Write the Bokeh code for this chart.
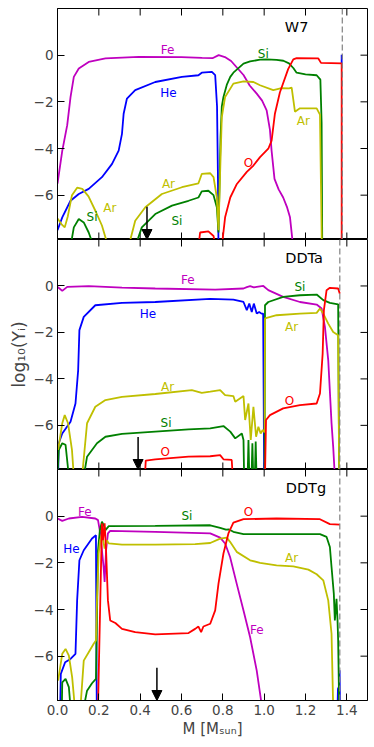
import math
from bokeh.plotting import figure
from bokeh.models import Range1d, LinearAxis, FixedTicker, Span, Arrow, NormalHead, ColumnDataSource
from bokeh.layouts import column
from bokeh.embed import file_html
from bokeh.resources import INLINE
from bokeh.core.properties import value

N = float("nan")

# ---------------- data ----------------
# W7
w7_fe_x = [0.0, 0.023, 0.047, 0.063, 0.079, 0.103, 0.151, 0.232, 0.393, 0.60, 0.70, 0.75, 0.78, 0.81, 0.84, 0.87, 0.90, 0.93, 0.964, 0.99, 1.012, 1.028, 1.036, 1.05, 1.07, 1.092, 1.11, 1.125, 1.14]
w7_fe_y = [-5.5, -4.1, -3.0, -1.8, -0.93, -0.57, -0.29, -0.14, -0.07, -0.08, -0.12, -0.13, 0.0, -0.08, -0.25, -0.55, -0.85, -1.3, -1.65, -1.95, -2.37, -3.2, -4.1, -5.3, -5.75, -6.1, -6.5, -6.95, -8.2]
w7_he_x = [0.0, 0.023, 0.063, 0.103, 0.151, 0.215, 0.264, 0.296, 0.312, 0.32, 0.336, 0.376, 0.473, 0.602, 0.682, 0.698, 0.747, 0.763, 0.772, 0.776, 0.779, N, 1.375, 1.375]
w7_he_y = [-7.5, -6.95, -6.24, -5.95, -5.73, -5.23, -4.66, -4.09, -3.37, -2.51, -1.86, -1.5, -1.15, -0.93, -0.86, -0.75, -0.72, -0.86, -2.2, -5.0, -8.2, N, 0.02, -0.35]
w7_si_x = [0.063, 0.079, 0.103, 0.127, 0.151, 0.175, N,
           0.376, 0.408, 0.473, 0.554, 0.634, 0.682, 0.698, 0.73, 0.755, 0.771, 0.779, 0.789, 0.795, 0.803, 0.82, 0.836, 0.851, 0.9, 0.932, 0.98, 1.012, 1.06, 1.093, 1.12, 1.141, 1.157, 1.2, 1.254, 1.272, 1.278, 1.281]
w7_si_y = [-8.2, -7.38, -7.02, -7.17, -7.6, -8.2, N,
           -8.2, -7.38, -6.81, -6.45, -6.24, -6.1, -5.84, -5.81, -6.0, -6.52, -7.6, -3.5, -2.2, -1.79, -1.25, -0.93, -0.75, -0.36, -0.27, -0.19, -0.18, -0.2, -0.24, -0.35, -0.55, -0.75, -0.82, -0.86, -1.05, -2.9, -8.2]
w7_ar_x = [0.0, 0.02, 0.035, 0.05, 0.07, 0.095, 0.12, 0.15, 0.185, 0.215, 0.245, N,
           0.344, 0.376, 0.425, 0.505, 0.602, 0.682, 0.698, 0.739, 0.755, 0.771, 0.779, 0.787, 0.795, 0.811, 0.851, 0.9, 0.948, 0.98, 1.044, 1.084, 1.12, 1.133, 1.149, 1.173, 1.254, 1.27, 1.279]
w7_ar_y = [-7.0, -7.25, -7.38, -6.9, -6.0, -5.68, -5.73, -6.05, -6.7, -7.3, -8.2, N,
           -8.2, -7.1, -6.52, -5.95, -5.66, -5.49, -5.09, -5.06, -5.23, -6.1, -7.5, -5.0, -2.65, -1.79, -1.22, -1.12, -1.15, -1.29, -1.5, -1.41, -1.42, -1.39, -2.42, -2.28, -2.28, -2.55, -8.2]
w7_o_x = [0.682, 0.69, 0.73, 0.755, 0.765, N,
          0.795, 0.811, 0.836, 0.868, 0.916, 0.948, 0.98, 1.02, 1.036, 1.052, 1.076, 1.116, 1.141, 1.157, 1.262, 1.275, 1.375, 1.375]
w7_o_y = [-8.2, -7.6, -7.55, -7.75, -8.2, N,
          -8.2, -6.95, -6.1, -5.52, -5.0, -4.73, -4.37, -4.01, -3.66, -2.51, -1.6, -0.6, -0.18, -0.13, -0.14, -0.33, -0.35, -8.2]

# DDTa
dta_fe_x = [0.0, 0.01, 0.023, 0.047, 0.151, 0.312, 0.473, 0.763, 0.9, 0.916, 0.932, 0.95, 0.964, 0.98, 0.996, 1.02, 1.092, 1.173, 1.254, 1.278, 1.294, 1.31, 1.321, 1.326, 1.334, 1.342]
dta_fe_y = [-0.04, -0.11, -0.21, -0.04, -0.01, -0.07, -0.11, -0.16, -0.11, -0.05, -0.01, -0.06, -0.04, -0.02, 0.0, -0.18, -0.47, -0.69, -0.8, -0.97, -1.76, -3.19, -5.06, -5.91, -6.92, -8.2]
dta_he_x = [0.003, 0.006, 0.023, 0.063, 0.087, 0.1, 0.106, 0.127, 0.183, 0.312, 0.473, 0.739, 0.851, 0.9, 0.916, 0.928, 0.94, 0.95, 0.964, 0.976, 0.987, 0.995, 1.0]
dta_he_y = [-8.2, -6.77, -6.35, -5.84, -5.06, -3.62, -1.9, -1.33, -0.83, -0.73, -0.69, -0.56, -0.59, -0.69, -1.04, -0.76, -1.12, -0.76, -1.19, -1.12, -1.19, -1.19, -8.2]
dta_si_x = [0.0, 0.006, 0.023, 0.039, 0.055, N,
            0.127, 0.143, 0.167, 0.191, 0.232, 0.312, 0.473, 0.634, 0.739, 0.803, 0.836, 0.86, 0.892, 0.9, 0.903, N,
            0.92, 0.924, 0.928, N, 0.939, 0.943, 0.947, N, 0.955, 0.959, 0.963, N,
            1.002, 1.004, 1.02, 1.092, 1.173, 1.254, 1.286, 1.318, 1.358, 1.363]
dta_si_y = [-8.2, -7.06, -6.77, -6.84, -8.2, N,
            -8.2, -7.35, -7.06, -6.77, -6.49, -6.37, -6.27, -6.17, -6.13, -6.03, -6.27, -6.56, -6.35, -6.63, -8.2, N,
            -8.2, -6.63, -8.2, N, -8.2, -6.77, -8.2, N, -8.2, -6.7, -8.2, N,
            -8.2, -0.83, -0.69, -0.47, -0.4, -0.37, -0.61, -0.73, -0.79, -8.2]
dta_ar_x = [0.003, 0.023, 0.035, 0.051, 0.07, 0.079, N,
            0.119, 0.143, 0.183, 0.232, 0.312, 0.473, 0.65, 0.698, 0.739, 0.787, 0.811, 0.851, 0.86, 0.9, 0.908, 0.924, 0.935, 0.948, 0.961, 0.972, 0.983, 0.993, 1.002, 1.004, 1.06, 1.173, 1.254, 1.27, 1.286, 1.31, 1.334, 1.358, 1.363]
dta_ar_y = [-7.06, -5.91, -5.56, -5.91, -7.06, -8.2, N,
            -8.2, -5.91, -5.2, -4.91, -4.77, -4.65, -4.48, -4.6, -4.55, -4.48, -4.7, -4.74, -4.98, -4.74, -5.77, -5.06, -6.63, -5.2, -6.49, -6.06, -6.35, -6.2, -6.3, -1.4, -1.26, -1.19, -1.16, -0.97, -1.19, -1.62, -1.98, -2.12, -8.2]
dta_o_x = [0.423, 0.427, 0.473, 0.634, 0.739, 0.787, 0.803, 0.843, 0.848, N,
           1.004, 1.009, 1.028, 1.092, 1.173, 1.254, 1.27, 1.283, 1.289, 1.302, 1.318, 1.358, 1.366]
dta_o_y = [-8.2, -7.52, -7.46, -7.35, -7.33, -7.28, -7.46, -7.49, -8.2, N,
           -8.2, -5.77, -5.56, -5.27, -5.13, -5.06, -4.63, -2.91, -1.04, -0.18, -0.08, -0.11, -0.33]

# DDTg
dtg_fe_x = [0.0, 0.023, 0.055, 0.119, 0.183, 0.196, 0.207, 0.215, 0.223, 0.228, 0.235, 0.244, 0.255, 0.473, 0.739, 0.787, 0.811, 0.835, 0.867, 0.9, 0.932, 0.964, 0.99]
dtg_fe_y = [-0.1, -0.2, -0.1, -0.03, -0.1, -0.17, -0.74, -1.46, -2.18, -2.82, -1.46, -0.74, -0.63, -0.67, -0.74, -0.92, -1.17, -1.75, -2.89, -4.04, -5.19, -6.62, -8.2]
dtg_he_x = [0.013, 0.016, 0.037, 0.063, 0.087, 0.095, 0.106, 0.127, 0.167, 0.186, 0.19, N, 1.355, 1.357, 1.362, 1.365, 1.367]
dtg_he_y = [-8.2, -6.76, -6.26, -6.12, -5.9, -3.61, -1.89, -1.46, -0.96, -0.82, -8.2, N, -8.2, -7.4, -7.3, -6.6, -8.2]
dtg_si_x = [0.021, 0.023, 0.039, 0.055, 0.063, N,
            0.127, 0.143, 0.167, 0.186, 0.191, 0.196, 0.205, 0.215, 0.224, 0.232, 0.248, 0.473, 0.739, 0.787, 0.815, 0.83, 0.851, 0.9, 1.06, 1.27, 1.302, 1.318, 1.326, 1.337, 1.342, 1.35, 1.355, 1.358, 1.363]
dtg_si_y = [-8.2, -7.12, -6.97, -7.33, -8.2, N,
            -8.2, -7.48, -7.16, -6.97, -4.33, -1.46, -0.6, -0.24, -0.4, -0.6, -0.43, -0.42, -0.39, -0.5, -0.58, -0.57, -0.67, -0.77, -0.77, -0.77, -0.89, -1.32, -2.18, -3.32, -4.47, -3.54, -4.47, -5.33, -8.2]
dtg_ar_x = [0.003, 0.023, 0.039, 0.055, 0.071, 0.084, N,
            0.111, 0.127, 0.151, 0.175, 0.186, 0.191, 0.199, 0.207, 0.215, 0.228, 0.239, 0.248, 0.312, 0.473, 0.666, 0.739, 0.787, 0.819, 0.835, 0.867, 0.932, 0.98, 1.06, 1.141, 1.214, 1.254, 1.286, 1.31, 1.326, 1.334]
dtg_ar_y = [-7.05, -5.9, -5.69, -5.98, -6.91, -8.2, N,
            -8.2, -6.19, -5.83, -5.47, -5.33, -3.61, -1.6, -1.03, -0.74, -1.39, -1.03, -1.17, -1.22, -1.22, -1.2, -1.15, -0.96, -0.92, -1.1, -1.53, -1.89, -2.0, -2.11, -2.15, -2.29, -2.49, -2.75, -3.61, -5.04, -8.2]
dtg_o_x = [0.196, 0.207, 0.215, 0.22, 0.228, 0.235, 0.244, 0.255, 0.28, 0.312, 0.376, 0.473, 0.634, 0.666, 0.682, 0.695, 0.706, 0.739, 0.763, 0.779, 0.803, 0.827, 0.851, 0.9, 1.06, 1.27, 1.318, 1.366]
dtg_o_y = [-8.2, -3.61, -0.31, -1.03, -0.31, -1.46, -3.61, -4.47, -4.58, -4.83, -4.97, -5.07, -5.01, -4.83, -4.73, -4.97, -4.73, -4.61, -4.04, -2.89, -1.6, -0.74, -0.28, -0.13, -0.1, -0.13, -0.34, -0.36]

# species labels
w7_lab_text = ["Fe", "He", "Si", "Ar", "O", "Ar", "Si", "Si", "Ar"]
w7_lab_x = [0.533, 0.537, 0.996, 1.19, 0.924, 0.537, 0.578, 0.167, 0.253]
w7_lab_y = [0.22, -1.62, 0.07, -2.82, -4.63, -5.52, -7.1, -6.92, -6.55]
dta_lab_text = ["Fe", "Si", "He", "Ar", "Ar", "O", "Si", "O"]
dta_lab_x = [0.631, 1.173, 0.438, 1.133, 0.533, 1.122, 0.525, 0.521]
dta_lab_y = [0.24, -0.04, -1.22, -1.76, -4.34, -4.94, -5.91, -7.15]
dtg_lab_text = ["Fe", "Si", "O", "He", "Ar", "Fe"]
dtg_lab_x = [0.132, 0.626, 0.924, 0.068, 1.133, 0.964]
dtg_lab_y = [0.19, 0.0, 0.19, -1.39, -1.78, -4.87]

model_names = ["W7", "DDTa", "DDTg"]
model_name_x = [1.157, 1.193, 1.202]
model_name_y = 1.22
arrow_x = [0.433, 0.39, 0.481]
arrow_top = -6.5
mass_line_x = [1.378, 1.366, 1.366]

x_ticks = [0.0, 0.2, 0.4, 0.6, 0.8, 1.0, 1.2, 1.4]
y_ticks = [-6, -4, -2, 0]
y_tick_labels = {-6: "\u22126", -4: "\u22124", -2: "\u22122", 0: "0"}
x_tick_labels = {0.0: "0.0", 0.2: "0.2", 0.4: "0.4", 0.6: "0.6", 0.8: "0.8", 1.0: "1.0", 1.2: "1.2", 1.4: "1.4"}
x_lim = (0.0, 1.5)
y_lim = (-7.9, 2.0)

colors = {"Fe": "#bf00bf", "He": "#0000ff", "Si": "#008000", "Ar": "#bfbf00", "O": "#ff0000"}
FONT = "DejaVu Sans"
TICK = 7  # inward tick length, px

xr = Range1d(*x_lim)


def make_panel(idx, series, labels, height, top_border, bottom_border, bottom_labels, ylabel):
    p = figure(width=372, height=height, x_range=xr, y_range=Range1d(*y_lim),
               output_backend="svg", toolbar_location=None,
               x_axis_location=None, y_axis_location=None,
               min_border_left=57, min_border_right=5,
               min_border_top=top_border, min_border_bottom=bottom_border)
    p.grid.visible = False
    p.outline_line_color = "black"
    p.outline_line_width = 1
    p.background_fill_color = "white"
    p.border_fill_color = "white"

    left = LinearAxis(ticker=FixedTicker(ticks=y_ticks))
    left.major_label_overrides = y_tick_labels
    left.major_tick_in = TICK
    left.major_tick_out = 0
    left.minor_tick_in = 0
    left.minor_tick_out = 0
    left.major_label_text_font = FONT
    left.major_label_text_font_size = "13.5px"
    left.major_label_standoff = 4
    if ylabel:
        left.axis_label = ylabel
        left.axis_label_text_font = FONT
        left.axis_label_text_font_size = "17px"
        left.axis_label_text_font_style = "normal"
        left.axis_label_standoff = 2
    p.add_layout(left, "left")

    if bottom_labels:
        bottom = LinearAxis(ticker=FixedTicker(ticks=x_ticks))
        bottom.major_label_overrides = x_tick_labels
        bottom.major_tick_in = TICK
        bottom.major_tick_out = 0
        bottom.minor_tick_in = 0
        bottom.minor_tick_out = 0
        bottom.major_label_text_font = FONT
        bottom.major_label_text_font_size = "13.5px"
        bottom.major_label_standoff = 4
        bottom.axis_label = "M [M\u209b\u1d64\u2099]"
        bottom.axis_label_text_font = FONT
        bottom.axis_label_text_font_size = "15px"
        bottom.axis_label_text_font_style = "normal"
        bottom.axis_label_standoff = 2
        p.add_layout(bottom, "below")

    # inward tick marks on the unlabeled sides (clipped to the frame)
    xt_top = [y_lim[1]] * len(x_ticks)
    p.scatter(x_ticks, xt_top, marker="dash", size=2 * TICK, angle=math.pi / 2,
              line_color="black", line_width=1)
    if not bottom_labels:
        xt_bot = [y_lim[0]] * len(x_ticks)
        p.scatter(x_ticks, xt_bot, marker="dash", size=2 * TICK, angle=math.pi / 2,
                  line_color="black", line_width=1)
    yt_right = [x_lim[1]] * len(y_ticks)
    p.scatter(yt_right, y_ticks, marker="dash", size=2 * TICK,
              line_color="black", line_width=1)

    p.add_layout(Span(location=mass_line_x[idx], dimension="height", line_color="#808080",
                      line_dash="6 3", line_width=1.2))

    for name, (xs, ys) in series.items():
        p.line(xs, ys, line_color=colors[name], line_width=1.8)

    lt, lx, ly = labels
    src = ColumnDataSource(dict(x=lx, y=ly, text=lt, color=[colors[t] for t in lt]))
    p.text(x="x", y="y", text="text", source=src, text_color="color",
           text_font=value(FONT), text_font_size=value("12px"),
           text_align="center", text_baseline="middle")
    nsrc = ColumnDataSource(dict(x=[model_name_x[idx]], y=[model_name_y], text=[model_names[idx]]))
    p.text(x="x", y="y", text="text", source=nsrc, text_color="black",
           text_font=value(FONT), text_font_size=value("14.5px"),
           text_align="center", text_baseline="middle")

    p.add_layout(Arrow(end=NormalHead(size=10, fill_color="black", line_color="black"),
                       x_start=arrow_x[idx], y_start=arrow_top,
                       x_end=arrow_x[idx], y_end=y_lim[0],
                       line_color="black", line_width=1.5))
    return p


p1 = make_panel(0, {"Fe": (w7_fe_x, w7_fe_y), "He": (w7_he_x, w7_he_y), "Si": (w7_si_x, w7_si_y),
                    "Ar": (w7_ar_x, w7_ar_y), "O": (w7_o_x, w7_o_y)},
                (w7_lab_text, w7_lab_x, w7_lab_y), 239, 8, 0, False, None)
p2 = make_panel(1, {"Fe": (dta_fe_x, dta_fe_y), "He": (dta_he_x, dta_he_y), "Si": (dta_si_x, dta_si_y),
                    "Ar": (dta_ar_x, dta_ar_y), "O": (dta_o_x, dta_o_y)},
                (dta_lab_text, dta_lab_x, dta_lab_y), 230, 0, 0, False, "log\u2081\u2080(Y\u1d62)")
p3 = make_panel(2, {"Fe": (dtg_fe_x, dtg_fe_y), "He": (dtg_he_x, dtg_he_y), "Si": (dtg_si_x, dtg_si_y),
                    "Ar": (dtg_ar_x, dtg_ar_y), "O": (dtg_o_x, dtg_o_y)},
                (dtg_lab_text, dtg_lab_x, dtg_lab_y), 275, 0, 44, True, None)

layout = column(p1, p2, p3, spacing=0)
open("out.html", "w").write(file_html(layout, INLINE))
